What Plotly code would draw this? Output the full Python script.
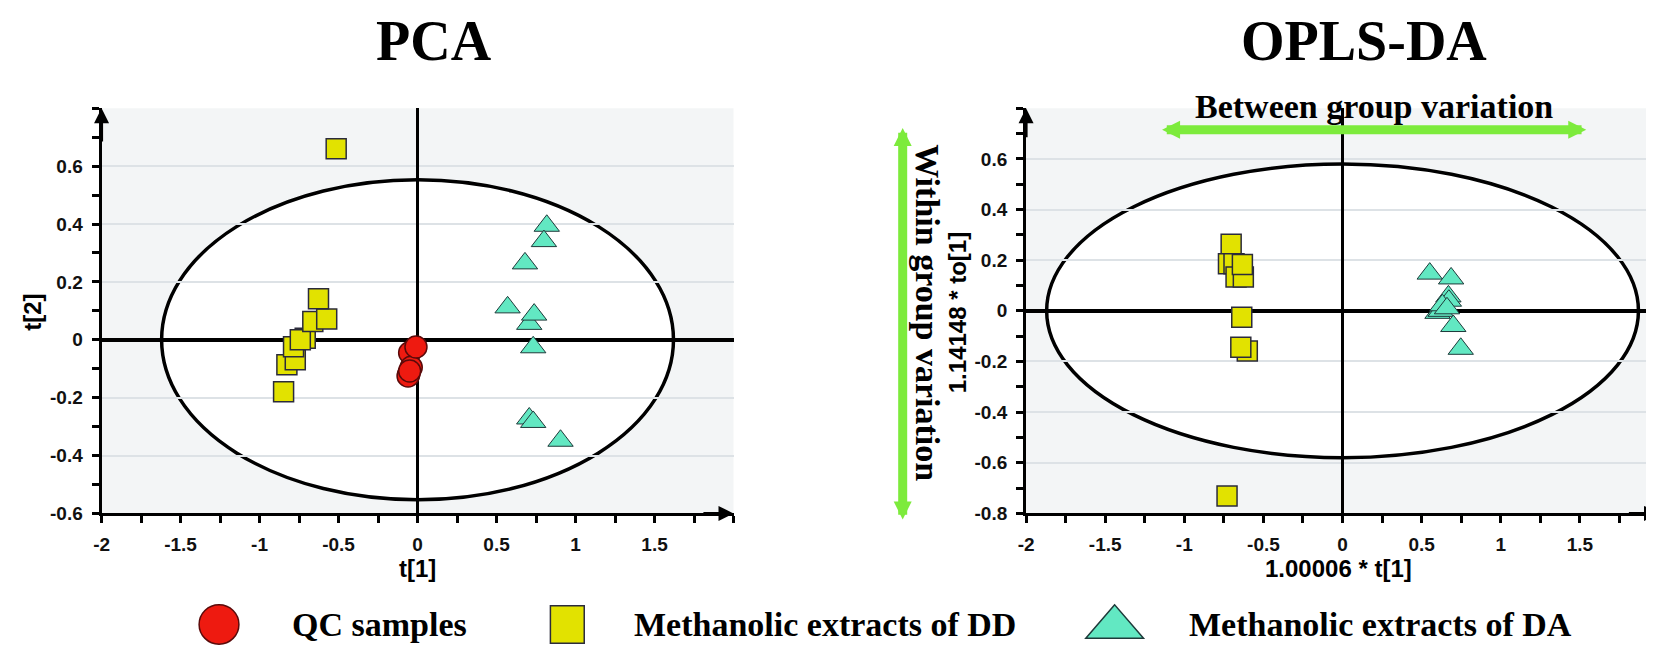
import plotly.graph_objects as go

W = 1654
H = 656

# PCA scores
qc_t1 = [-0.05, -0.055, -0.06, -0.04, -0.05, -0.01]
qc_t2 = [-0.045, -0.118, -0.125, -0.095, -0.108, -0.025]

dd_pca_t1 = [-0.515, -0.848, -0.827, -0.774, -0.785, -0.711, -0.742, -0.663, -0.575, -0.627]
dd_pca_t2 = [0.66, -0.18, -0.086, -0.069, -0.024, 0.005, 0.0, 0.063, 0.072, 0.142]

da_pca_t1 = [0.818, 0.80, 0.68, 0.57, 0.707, 0.738, 0.732, 0.707, 0.732, 0.905]
da_pca_t2 = [0.394, 0.341, 0.264, 0.112, 0.055, 0.087, -0.026, -0.272, -0.284, -0.349]

# OPLS-DA scores (right panel)
dd_opls_t1 = [-0.704, -0.721, -0.686, -0.673, -0.627, -0.633, -0.637, -0.602, -0.643, -0.73]
dd_opls_to1 = [0.263, 0.186, 0.186, 0.134, 0.134, 0.183, -0.025, -0.159, -0.144, -0.731]

da_opls_t1 = [0.551, 0.686, 0.669, 0.672, 0.60, 0.62, 0.631, 0.66, 0.70, 0.747]
da_opls_to1 = [0.147, 0.128, 0.057, 0.04, -0.008, 0.0, 0.022, 0.01, -0.06, -0.15]

# Hotelling T2 ellipse half-widths
pca_ellipse = [1.62, 0.553]
opls_ellipse = [1.87, 0.58]

x_ticks = [-2, -1.5, -1, -0.5, 0, 0.5, 1, 1.5]
x_ticklabels = ["-2", "-1.5", "-1", "-0.5", "0", "0.5", "1", "1.5"]
pca_y_ticks = [-0.6, -0.4, -0.2, 0, 0.2, 0.4, 0.6]
pca_y_ticklabels = ["-0.6", "-0.4", "-0.2", "0", "0.2", "0.4", "0.6"]
opls_y_ticks = [-0.8, -0.6, -0.4, -0.2, 0, 0.2, 0.4, 0.6]
opls_y_ticklabels = ["-0.8", "-0.6", "-0.4", "-0.2", "0", "0.2", "0.4", "0.6"]

legend_names = ["QC samples", "Methanolic extracts of DD", "Methanolic extracts of DA"]

RED = "#ee1a10"
YELLOW = "#e2e200"
CYAN = "#62e8c2"
GREEN = "#7deb3c"
SANS = "Liberation Sans, Arial, sans-serif"
SERIF = "Liberation Serif, Times New Roman, serif"


def px(x):
    return x / W


def py(y):
    return 1 - y / H


square = dict(symbol="square", size=20, color=YELLOW, line=dict(color="#2b2b3b", width=1.5))
tri = dict(symbol="triangle-up", size=22, color=CYAN, line=dict(color="#1e3a3a", width=1))
dot = dict(symbol="circle", size=22, color=RED, line=dict(color="#5a0a0a", width=1.5))

fig = go.Figure()
fig.add_trace(go.Scatter(x=dd_pca_t1, y=dd_pca_t2, mode="markers", marker=square,
                         name=legend_names[1], showlegend=False, xaxis="x", yaxis="y"))
fig.add_trace(go.Scatter(x=da_pca_t1, y=da_pca_t2, mode="markers", marker=tri,
                         name=legend_names[2], showlegend=False, xaxis="x", yaxis="y"))
fig.add_trace(go.Scatter(x=qc_t1, y=qc_t2, mode="markers", marker=dot,
                         name=legend_names[0], showlegend=False, xaxis="x", yaxis="y"))
fig.add_trace(go.Scatter(x=dd_opls_t1, y=dd_opls_to1, mode="markers", marker=square,
                         name=legend_names[1], showlegend=False, xaxis="x2", yaxis="y2"))
fig.add_trace(go.Scatter(x=da_opls_t1, y=da_opls_to1, mode="markers", marker=tri,
                         name=legend_names[2], showlegend=False, xaxis="x2", yaxis="y2"))

tickfont = dict(family=SANS, size=19, color="#111", weight="bold")


def xaxis_style(domain, anchor):
    return dict(domain=domain, anchor=anchor, range=[-2, 2], tickmode="array",
                tickvals=x_ticks, ticktext=x_ticklabels, ticks="outside", ticklen=7,
                tickwidth=2.5, tickcolor="black", ticklabelstandoff=5,
                minor=dict(dtick=0.25, tick0=0, ticks="outside", ticklen=7, tickwidth=2.5,
                           tickcolor="black", showgrid=False),
                showline=True, linewidth=3, linecolor="black", showgrid=False,
                zeroline=True, zerolinewidth=2.5, zerolinecolor="black",
                tickfont=tickfont, fixedrange=True)


def yaxis_style(domain, anchor, rng, vals, labels):
    return dict(domain=domain, anchor=anchor, range=rng, tickmode="array",
                tickvals=vals, ticktext=labels, ticks="outside", ticklen=7,
                tickwidth=2.5, tickcolor="black", ticklabelstandoff=5,
                minor=dict(dtick=0.1, tick0=0, ticks="outside", ticklen=7, tickwidth=2.5,
                           tickcolor="black", showgrid=False),
                showline=True, linewidth=3, linecolor="black",
                showgrid=True, gridcolor="#dde2e6", gridwidth=1.5,
                zeroline=True, zerolinewidth=3.5, zerolinecolor="black",
                tickfont=tickfont, fixedrange=True)


ydom = [py(514), py(102)]
fig.update_layout(
    width=W, height=H,
    margin=dict(l=0, r=0, t=0, b=0),
    paper_bgcolor="white", plot_bgcolor="#f3f5f6",
    showlegend=False,
    xaxis=xaxis_style([px(86), px(721)], "y"),
    yaxis=yaxis_style(ydom, "x", [-0.6, 0.8], pca_y_ticks, pca_y_ticklabels),
    xaxis2=xaxis_style([px(1015), px(1651)], "y2"),
    yaxis2=yaxis_style(ydom, "x2", [-0.8, 0.8], opls_y_ticks, opls_y_ticklabels),
)

# T2 ellipses, white inside
for xr, yr, e in [("x", "y", pca_ellipse), ("x2", "y2", opls_ellipse)]:
    fig.add_shape(type="circle", xref=xr, yref=yr, x0=-e[0], x1=e[0], y0=-e[1], y1=e[1],
                  fillcolor="white", line=dict(color="black", width=3.5), layer="below")

ann = []
# titles and axis labels
ann.append(dict(text="<b>PCA</b>", x=px(420), y=py(34), font=dict(family=SERIF, size=56)))
ann.append(dict(text="<b>OPLS-DA</b>", x=px(1355), y=py(34), font=dict(family=SERIF, size=56)))
ann.append(dict(text="<b>t[2]</b>", x=px(17), y=py(309), textangle=-90, font=dict(family=SANS, size=24)))
ann.append(dict(text="<b>t[1]</b>", x=px(403), y=py(570), font=dict(family=SANS, size=24)))
ann.append(dict(text="<b>1.00006 * t[1]</b>", x=px(1329), y=py(570), font=dict(family=SANS, size=24)))
ann.append(dict(text="<b>1.14148 * to[1]</b>", x=px(946), y=py(310), textangle=-90,
                font=dict(family=SANS, size=24)))
ann.append(dict(text="<b>Between group variation</b>", x=px(1365), y=py(100),
                font=dict(family=SERIF, size=34)))
ann.append(dict(text="<b>Within group variation</b>", x=px(916), y=py(310), textangle=90,
                font=dict(family=SERIF, size=34)))
for a in ann:
    a.update(xref="paper", yref="paper", showarrow=False, xanchor="center", yanchor="middle",
             font=dict(a["font"], color="black"))

# axis arrow heads
for xr, yr, ybot in [("x", "y", -0.6), ("x2", "y2", -0.8)]:
    ann.append(dict(x=-2, y=0.8, ax=-2, ay=0.68, xref=xr, yref=yr, axref=xr, ayref=yr,
                    text="", showarrow=True, arrowhead=2, arrowsize=1, arrowwidth=3,
                    arrowcolor="black"))
    ann.append(dict(x=2, y=ybot, ax=1.8, ay=ybot, xref=xr, yref=yr, axref=xr, ayref=yr,
                    text="", showarrow=True, arrowhead=2, arrowsize=1, arrowwidth=3,
                    arrowcolor="black"))

# green double arrows
ann.append(dict(x=1.54, y=0.715, ax=-1.15, ay=0.715, xref="x2", yref="y2", axref="x2", ayref="y2",
                text="", showarrow=True, arrowhead=2, startarrowhead=2, arrowside="end+start",
                arrowsize=0.4, startarrowsize=0.4, arrowwidth=9, arrowcolor=GREEN))
ann.append(dict(x=px(891), y=py(122), ax=0, ay=515 - 122, xref="paper", yref="paper",
                text="", showarrow=True, arrowhead=2, startarrowhead=2, arrowside="end+start",
                arrowsize=0.4, startarrowsize=0.4, arrowwidth=9, arrowcolor=GREEN))

# legend
for name, x in zip(legend_names, [275, 619, 1177]):
    ann.append(dict(text="<b>" + name + "</b>", x=px(x), y=py(627), xref="paper", yref="paper",
                    showarrow=False, xanchor="left", yanchor="middle",
                    font=dict(family=SERIF, size=34, color="black")))
fig.update_layout(annotations=ann)

fig.add_shape(type="circle", xref="paper", yref="paper", x0=px(184), x1=px(224), y0=py(647), y1=py(607),
              fillcolor=RED, line=dict(color="#5a0a0a", width=1.5))
fig.add_shape(type="rect", xref="paper", yref="paper", x0=px(537), x1=px(571), y0=py(646), y1=py(608),
              fillcolor=YELLOW, line=dict(color="#2b2b3b", width=1.5))
fig.add_shape(type="path", xref="paper", yref="paper",
              path="M %f,%f L %f,%f L %f,%f Z" % (px(1104), py(607), px(1075), py(641), px(1133), py(641)),
              fillcolor=CYAN, line=dict(color="#1e3a3a", width=1.5))

fig.write_html("out.html")
